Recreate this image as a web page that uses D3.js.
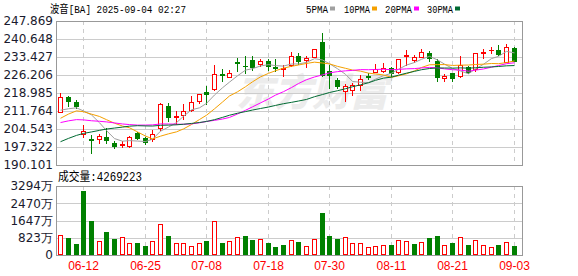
<!DOCTYPE html>
<html lang="zh">
<head>
<meta charset="UTF-8">
<title>波音[BA] 日K</title>
<script src="https://d3js.org/d3.v7.min.js"></script>
<style>
  body { margin: 0; background: #fff; }
  svg { display: block; }
  .ylab { font-family: "DejaVu Sans", Verdana, sans-serif; font-size: 12px; fill: #1a1a2e; }
  .mono { font-family: "Liberation Mono", "Noto Sans CJK SC", monospace; font-size: 11px; fill: #000; }
  .xlab { font-family: "Liberation Sans", Arial, sans-serif; font-size: 12px; fill: #f00; }
</style>
</head>
<body>
<div id="chart"></div>
<script>
// trading days shown (2025)
const dates = [
  "06-09","06-10","06-11","06-12","06-13","06-16","06-17","06-18","06-20","06-23",
  "06-24","06-25","06-26","06-27","06-30","07-01","07-02","07-03","07-07","07-08",
  "07-09","07-10","07-11","07-14","07-15","07-16","07-17","07-18","07-21","07-22",
  "07-23","07-24","07-25","07-28","07-29","07-30","07-31","08-01","08-04","08-05",
  "08-06","08-07","08-08","08-11","08-12","08-13","08-14","08-15","08-18","08-19",
  "08-20","08-21","08-22","08-25","08-26","08-27","08-28","08-29","09-02","09-03"
];
const opens = [
  211.5,217.5,215.5,202.4,200.7,200.6,201.3,198.9,198.3,197.7,
  202.8,200.8,200.4,204.8,213.8,209.4,210.2,212.2,215.8,219.4,
  220.4,226.8,225.5,231.5,230.0,232.2,230.6,231.7,229.5,228.6,
  230.1,233.7,232.2,233.4,239.4,227.7,224.3,219.7,220.1,222.1,
  225.8,227.3,227.8,228.9,227.5,233.8,232.2,233.6,234.9,231.9,
  224.9,227.1,225.8,229.5,228.5,235.0,236.1,236.2,231.5,236.9
];
const highs = [
  219.0,217.9,216.2,206.2,202.0,202.7,205.1,199.7,199.9,201.9,
  203.2,201.3,204.1,214.9,214.9,211.8,214.5,217.9,218.6,221.8,
  230.2,228.6,228.3,233.0,233.7,233.7,232.6,232.8,232.8,230.1,
  235.4,235.0,233.7,236.8,243.1,230.3,225.0,222.6,223.0,226.3,
  227.0,230.6,230.9,229.3,232.6,236.2,234.2,236.5,236.0,232.5,
  226.5,227.1,233.8,229.8,234.9,236.5,237.6,238.2,238.6,237.3
];
const lows = [
  211.2,213.9,212.9,201.5,195.0,199.1,199.1,196.8,197.5,197.5,
  200.4,198.4,199.7,204.1,207.8,206.7,208.6,211.8,214.9,214.6,
  220.2,223.8,225.5,227.7,227.0,228.3,229.7,228.3,227.7,225.7,
  229.7,230.6,229.3,233.4,225.7,221.0,221.0,215.9,218.3,220.3,
  224.7,227.3,227.5,225.9,226.9,230.2,231.5,233.3,231.9,223.9,
  223.9,223.9,225.5,226.9,227.9,232.9,234.9,234.2,231.5,231.9
];
const closes = [
  217.4,215.9,213.9,203.7,200.1,201.7,200.1,197.9,198.5,201.2,
  200.8,199.2,202.5,214.6,209.5,209.7,211.9,215.5,218.6,218.4,
  226.5,226.4,226.9,231.2,229.8,229.5,231.7,229.7,229.1,228.9,
  233.7,231.7,233.0,236.5,226.3,226.1,221.7,221.9,222.1,224.6,
  225.6,228.5,228.9,226.9,232.6,234.1,233.6,235.3,232.9,225.3,
  225.8,224.9,230.2,227.3,234.9,235.3,236.3,234.6,237.3,231.9
];
// 29 sessions before 06-09, only used to warm up the moving averages
const priorCloses = [
  176,178,180,182,183,184,186,187,190,195,
  202,204,206,207,206,205,206,207,206,205,
  199,201,207,210,211,213,212,210,208
];
// volume, 万股
const volumes = [
  940,811,525,3055,1623,668,1098,764,843,573,
  573,430,668,1464,907,557,557,414,557,668,
  1607,573,668,843,907,716,748,573,382,462,
  716,636,430,764,2021,923,764,859,573,573,
  382,430,477,477,716,668,525,620,811,907,
  477,573,859,477,716,477,382,477,620,427
];
const xTicks = ["06-12","06-25","07-08","07-18","07-30","08-11","08-21","09-03"];
const priceTicks = [247.869,240.648,233.427,226.206,218.985,211.764,204.543,197.322,190.101];
const volTicks = [3294,2470,1647,823,0];
const maPeriods = [5,10,20,30];
const maNames = ["5PMA","10PMA","20PMA","30PMA"];

const maColors = ["#a0a0a0","#f5a000","#ff00ff","#006a32"];
const UP = "#ff0000", DOWN = "#008000";
const W = 578, H = 276;
const left = 56, right = 522;
const pTop = 21, pBot = 165, vTop = 186, vBot = 255;

const svg = d3.select("#chart").append("svg").attr("width", W).attr("height", H);

const x = d3.scaleBand().domain(dates).range([56.46, 517.44]);
const cx = d => Math.round(x(d) + x.bandwidth() / 2);
const y = d3.scaleLinear().domain([190.101, 247.869]).range([pBot, pTop]);
const yv = d3.scaleLinear().domain([0, 3294]).range([vBot, vTop]);

const data = dates.map((d, i) => ({
  date: d, o: opens[i], h: highs[i], l: lows[i], c: closes[i], v: volumes[i],
  prev: i === 0 ? priorCloses[priorCloses.length - 1] : closes[i - 1]
}));

const all = priorCloses.concat(closes);
const off = priorCloses.length;
const mas = maPeriods.map(n => closes.map((c, i) => d3.mean(all.slice(off + i - n + 1, off + i + 1))));

// watermark
svg.append("text")
  .attr("x", 312).attr("y", 106)
  .attr("text-anchor", "middle")
  .style("font-family", "'Noto Sans CJK SC', sans-serif")
  .style("font-size", "38px").style("font-weight", 900).style("font-style", "italic")
  .style("fill", "#ececec")
  .text("东方财富");

// grids
function grid(top, bot, ticks, scale) {
  svg.append("g").selectAll("line").data(ticks).join("line")
    .attr("x1", left).attr("x2", right)
    .attr("y1", t => Math.round(scale(t)) + 0.5).attr("y2", t => Math.round(scale(t)) + 0.5)
    .attr("stroke", "#cccccc");
  svg.append("g").selectAll("line").data(xTicks).join("line")
    .attr("x1", d => cx(d) + 0.5).attr("x2", d => cx(d) + 0.5)
    .attr("y1", top).attr("y2", bot)
    .attr("stroke", "#cccccc").attr("stroke-dasharray", "4,4");
  svg.append("rect")
    .attr("x", left + 0.5).attr("y", top + 0.5)
    .attr("width", right - left).attr("height", bot - top)
    .attr("fill", "none").attr("stroke", "#999999");
}
grid(pTop, pBot, priceTicks.slice(1, -1), y);
grid(vTop, vBot, volTicks.slice(1, -1), yv);

// y labels
svg.append("g").selectAll("text").data(priceTicks).join("text")
  .attr("class", "ylab").attr("x", 53).attr("y", t => y(t)).attr("dy", "0.36em")
  .attr("text-anchor", "end").text(t => t.toFixed(3));
svg.append("g").selectAll("text").data(volTicks).join("text")
  .attr("class", "ylab").attr("x", 53).attr("y", t => yv(t)).attr("dy", "0.36em")
  .attr("text-anchor", "end").text(t => t === 0 ? "0" : t + "万");

// x labels
svg.append("g").selectAll("text").data(xTicks).join("text")
  .attr("class", "xlab").attr("x", d => cx(d) + 0.5).attr("y", 270)
  .attr("text-anchor", "middle").text(d => d);

// candles
const candle = svg.append("g").selectAll("g").data(data).join("g");
candle.append("line")
  .attr("x1", d => cx(d.date) + 0.5).attr("x2", d => cx(d.date) + 0.5)
  .attr("y1", d => Math.round(y(d.h))).attr("y2", d => Math.round(y(d.l)) + 1)
  .attr("stroke", d => d.c >= d.o ? UP : DOWN);
candle.each(function (d) {
  const g = d3.select(this);
  const col = d.c >= d.o ? UP : DOWN;
  const t = Math.round(y(Math.max(d.o, d.c))) + 0.5;
  const b = Math.round(y(Math.min(d.o, d.c))) + 0.5;
  if (b - t < 1) {
    g.append("line").attr("x1", cx(d.date) - 2).attr("x2", cx(d.date) + 3)
      .attr("y1", t).attr("y2", t).attr("stroke", col);
  } else {
    g.append("rect").attr("x", cx(d.date) - 1.5).attr("y", t)
      .attr("width", 4).attr("height", b - t)
      .attr("fill", d.c >= d.o ? "#fff" : DOWN).attr("stroke", col);
  }
});

// moving averages
const line = d3.line().x((v, i) => cx(dates[i]) + 0.5).y(v => y(v));
svg.append("g").selectAll("path").data(mas).join("path")
  .attr("d", line).attr("fill", "none")
  .attr("stroke", (m, i) => maColors[i]).attr("stroke-width", 1);

// volume bars (colour by change against previous close)
svg.append("g").selectAll("rect").data(data).join("rect")
  .attr("x", d => cx(d.date) - 1.5)
  .attr("y", d => Math.round(yv(d.v)) + 0.5)
  .attr("width", 4)
  .attr("height", d => vBot - 0.5 - (Math.round(yv(d.v)) + 0.5))
  .attr("fill", d => d.c >= d.prev ? "#fff" : DOWN)
  .attr("stroke", d => d.c >= d.prev ? UP : DOWN);

// header
svg.append("text").attr("class", "mono").attr("x", 50).attr("y", 13)
  .attr("textLength", 136).attr("lengthAdjust", "spacingAndGlyphs")
  .text("波音[BA] 2025-09-04 02:27");
const legX = [306, 344, 385, 427], legW = [22, 26, 27, 26];
maNames.forEach((n, i) => {
  svg.append("text").attr("class", "mono").attr("x", legX[i]).attr("y", 13)
    .attr("textLength", legW[i]).attr("lengthAdjust", "spacingAndGlyphs").text(n);
  svg.append("rect").attr("x", legX[i] + legW[i] + 2).attr("y", 6.5)
    .attr("width", 5).attr("height", 4).attr("fill", maColors[i]);
});
svg.append("text").attr("class", "mono").attr("x", 58).attr("y", 181)
  .attr("textLength", 84).attr("lengthAdjust", "spacingAndGlyphs")
  .style("font-size", "12px")
  .text("成交量:4269223");
</script>
</body>
</html>
